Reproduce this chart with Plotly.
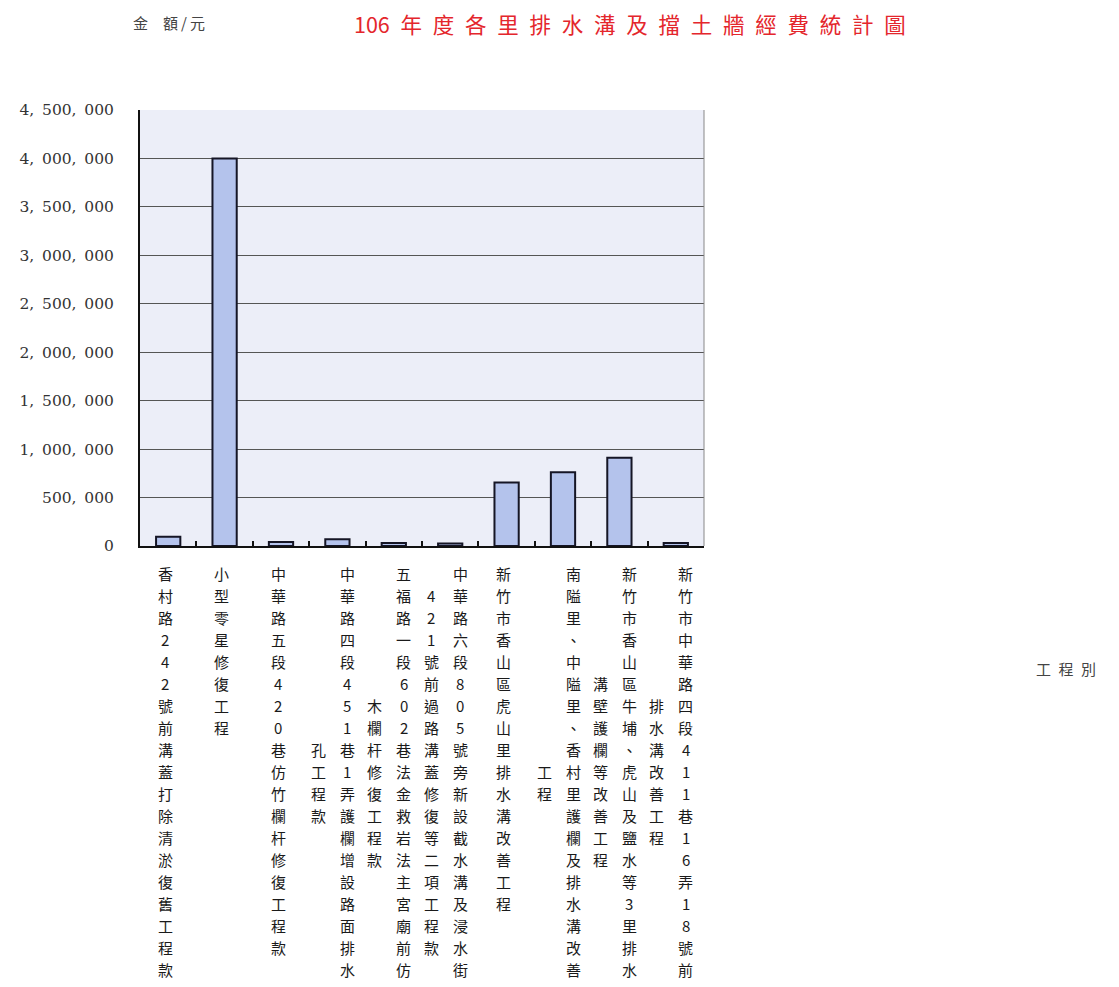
import plotly.graph_objects as go

# ---------------- data ----------------
categories = [
    "香村路242號前溝蓋打除清淤復舊工程款",
    "小型零星修復工程",
    "中華路五段420巷仿竹欄杆修復工程款",
    "中華路四段451巷1弄護欄增設路面排水孔工程款",
    "五福路一段602巷法金救岩法主宮廟前仿木欄杆修復工程款",
    "中華路六段805號旁新設截水溝及浸水街421號前過路溝蓋修復等二項工程款",
    "新竹市香山區虎山里排水溝改善工程",
    "南隘里、中隘里、香村里護欄及排水溝改善工程",
    "新竹市香山區牛埔、虎山及鹽水等3里排水溝壁護欄等改善工程",
    "新竹市中華路四段411巷16弄18號前排水溝改善工程",
]
amounts = [95000, 4000000, 40000, 70000, 30000, 25000, 655000, 760000, 910000, 30000]
y_tickvals = [0, 500000, 1000000, 1500000, 2000000, 2500000, 3000000, 3500000, 4000000, 4500000]
title_text = "106年度各里排水溝及擋土牆經費統計圖"
y_title = "金額/元"
x_title = "工程別"

# ---------------- layout constants ----------------
OFF = 8                      # page body margin
W, H = 1119, 987
L, T = 123, 102
PW, PH = 573, 436
R, B = W - L - PW, H - T - PH
BASE_Y = OFF + T + PH        # page y of the zero line (546)
COL_LEN = 19                 # characters in the first label column
ROW0_Y = 573                 # page y of first character row
ROW_PITCH = 22
SECOND_COL_CENTER_ROW = 9.25
LABEL_FONT = dict(family="Noto Sans CJK TC", size=15, color="#1a1a1a")


def paper(px, py):
    return (px - OFF - L) / PW, (BASE_Y - py) / PH


y_ticktext = [f"{v:,}".replace(",", ",\u2002") for v in y_tickvals]

fig = go.Figure()
fig.add_trace(go.Bar(
    x=categories, y=amounts,
    marker=dict(color="#b4c3ec", line=dict(color="#151525", width=2)),
    width=0.43,
    hoverinfo="x+y",
))

annotations = []


def add_column(cat, chars, xshift, start_row):
    for k, ch in enumerate(chars):
        yc = ROW0_Y + (start_row + k) * ROW_PITCH
        annotations.append(dict(
            x=cat, xref="x", y=0, yref="paper", text=ch,
            showarrow=False, xanchor="center", yanchor="middle",
            xshift=xshift, yshift=-(yc - BASE_Y), font=LABEL_FONT))


for cat in categories:
    first, rest = cat[:COL_LEN], cat[COL_LEN:]
    if rest:
        add_column(cat, first, 10, 0)
        start = round(SECOND_COL_CENTER_ROW - (len(rest) - 1) / 2)
        add_column(cat, rest, -19, start)
    else:
        add_column(cat, first, -3, 0)

tx, ty = paper(629, 24)
annotations.append(dict(
    xref="paper", yref="paper", x=tx, y=ty,
    text=title_text[:3] + "\u2002" + "\u2002".join(title_text[3:]),
    showarrow=False, xanchor="center", yanchor="middle",
    font=dict(family="Noto Sans CJK TC", size=21.5, color="#e4262c")))
ax_, ay_ = paper(160, 22)
annotations.append(dict(
    xref="paper", yref="paper", x=ax_, y=ay_,
    text="金\u2003額\u2009/\u2009元", showarrow=False, xanchor="center", yanchor="middle",
    font=dict(family="Noto Sans CJK TC", size=15, color="#444")))
bx_, by_ = paper(1072, 668)
annotations.append(dict(
    xref="paper", yref="paper", x=bx_, y=by_,
    text="\u2002".join(x_title), showarrow=False, xanchor="center", yanchor="middle",
    font=dict(family="Noto Sans CJK TC", size=15, color="#444")))

fig.update_layout(
    width=W, height=H,
    margin=dict(l=L, r=R, t=T, b=B),
    paper_bgcolor="white",
    plot_bgcolor="#eceef8",
    showlegend=False,
    annotations=annotations,
    shapes=[dict(type="line", xref="paper", yref="paper", x0=1, x1=1, y0=0, y1=1,
                 line=dict(color="#888", width=1))],
)
fig.update_xaxes(
    type="category", showticklabels=False, showgrid=False,
    showline=True, linecolor="#111", linewidth=2,
    ticks="inside", tickson="boundaries", ticklen=5, tickcolor="#111", tickwidth=1.5,
    range=[-0.5, 9.5],
)
fig.update_yaxes(
    range=[0, 4500000], tickvals=y_tickvals, ticktext=y_ticktext,
    showgrid=True, gridcolor="#555", gridwidth=1.3,
    showline=True, linecolor="#111", linewidth=2,
    zeroline=False, ticks="", ticklabelstandoff=21,
    tickfont=dict(family="DejaVu Serif", size=15.5, color="#333"),
)

fig.write_html("out.html")
